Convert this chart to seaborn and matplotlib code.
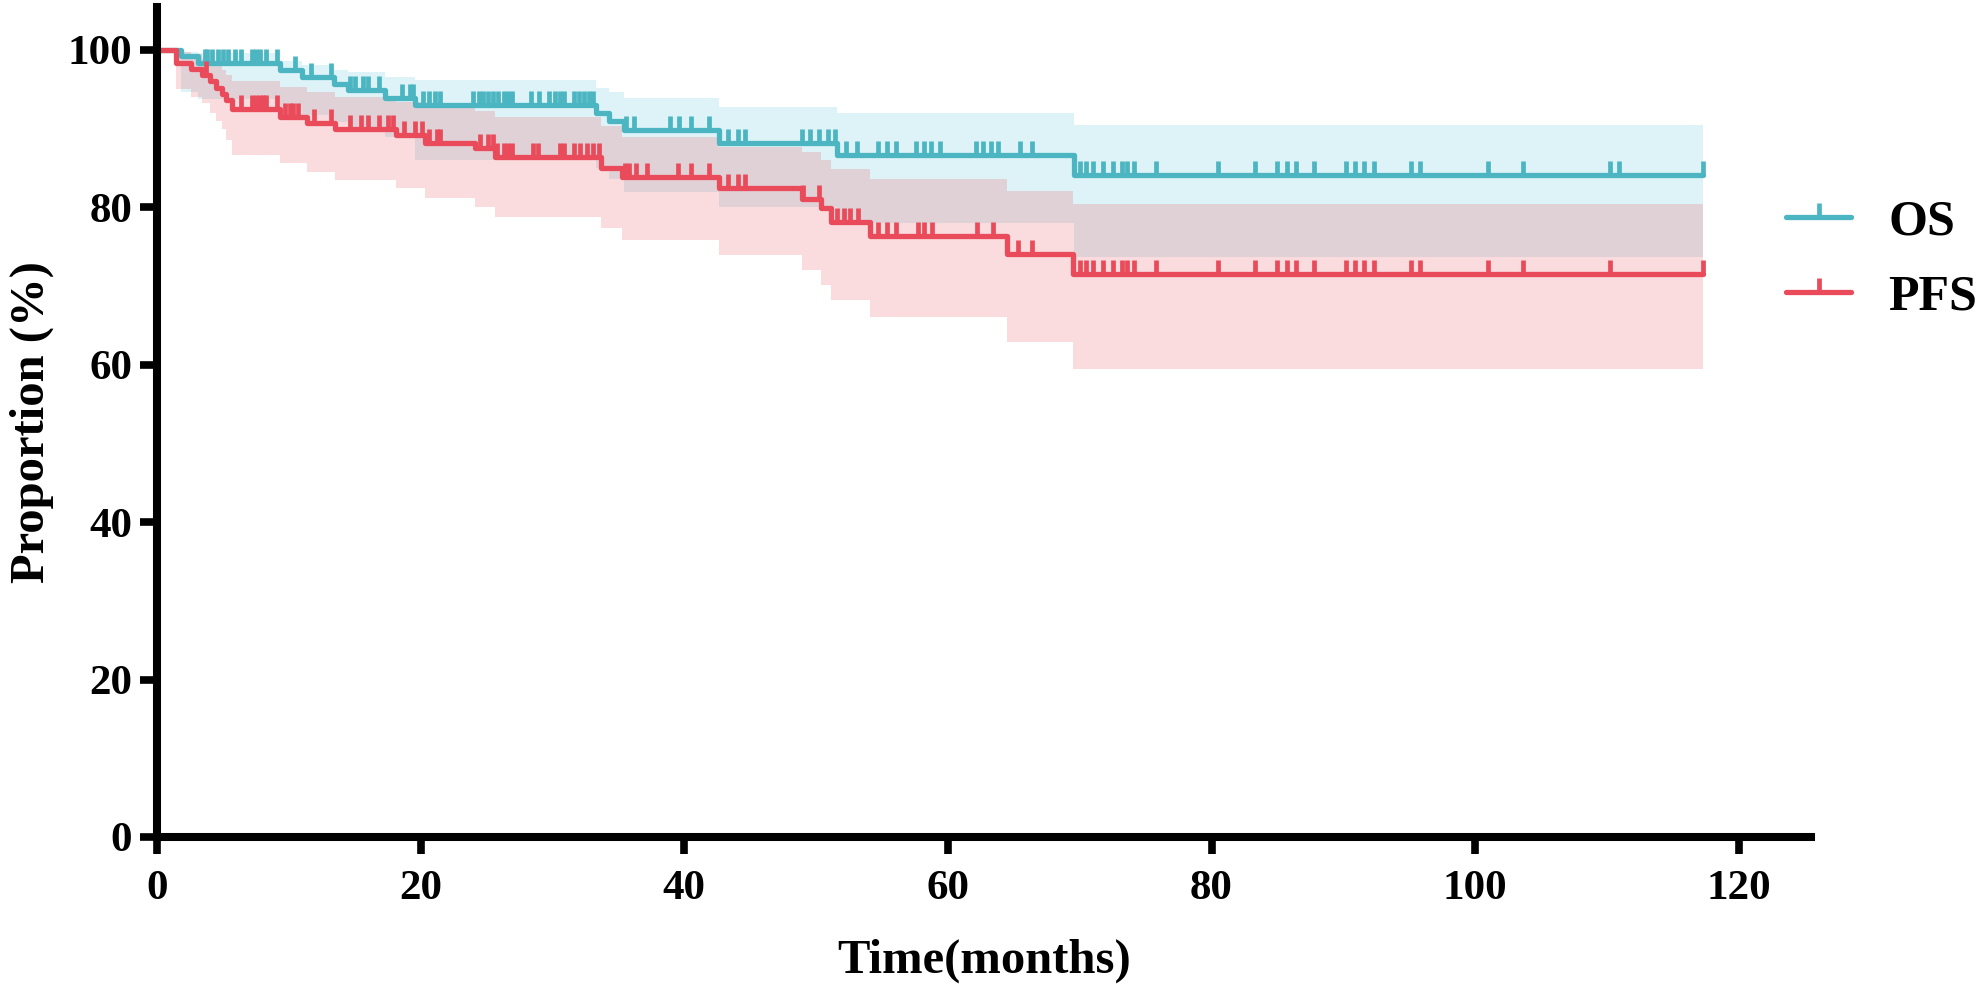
import numpy as np
import matplotlib
matplotlib.use("Agg")
import matplotlib.pyplot as plt
from matplotlib.path import Path
from matplotlib.lines import Line2D
import seaborn as sns

# %% Data (months, %)
t_end = 117.3

os_time = [0, 1.8, 3.1, 9.3, 11.0, 13.4, 14.5, 17.3, 19.6, 33.3, 34.3, 35.4, 42.6, 51.6, 69.6]
os_surv = [100, 99.2, 98.4, 97.5, 96.6, 95.7, 94.9, 93.9, 93.0, 92.0, 91.0, 89.8, 88.2, 86.6, 84.1]
os_low = [100, 94.6, 93.8, 92.7, 91.7, 90.8, 89.9, 88.9, 86.0, 85.0, 83.6, 82.0, 80.1, 78.0, 73.7]
os_high = [100, 99.8, 99.6, 98.6, 98.1, 97.5, 97.2, 96.6, 96.2, 95.2, 94.7, 93.9, 92.8, 92.0, 90.5]
os_censor = [3.6, 3.8, 4.2, 4.6, 5.0, 5.4, 5.9, 6.4, 7.2, 7.5, 7.8, 8.3, 9.1, 10.5, 11.7,
             13.2, 14.6, 15.0, 15.6, 16.0, 16.8, 18.6, 19.2, 19.4, 20.2, 20.6, 21.1, 21.5,
             24.0, 24.4, 24.7, 25.1, 25.5, 25.9, 26.3, 26.6, 26.9, 28.4, 29.0, 29.7, 30.2,
             30.6, 30.9, 31.6, 32.0, 32.4, 32.8, 33.1, 35.6, 36.2, 38.9, 39.6, 40.5, 41.9,
             43.3, 44.1, 44.6, 48.9, 49.5, 50.2, 50.9, 51.4, 52.3, 53.1, 54.7, 55.4, 56.1,
             57.6, 58.2, 58.7, 59.4, 62.1, 62.7, 63.3, 63.8, 65.5, 66.4, 70.0, 70.5, 71.0,
             71.8, 72.5, 73.2, 73.6, 74.1, 75.8, 80.5, 83.3, 85.0, 85.7, 86.4, 87.8, 90.2,
             90.9, 91.6, 92.3, 95.1, 95.8, 101.0, 103.6, 110.2, 110.9, 117.3]

pfs_time = [0, 1.4, 2.6, 3.4, 4.0, 4.5, 4.9, 5.2, 5.7, 9.3, 11.4, 13.5, 18.1, 20.3, 24.1,
            25.6, 33.7, 35.3, 42.6, 48.9, 50.4, 51.1, 54.1, 64.5, 69.5]
pfs_surv = [100, 98.4, 97.6, 96.8, 96.0, 95.2, 94.4, 93.6, 92.5, 91.5, 90.7, 90.0, 89.2, 88.2,
            87.5, 86.4, 85.0, 83.8, 82.4, 81.1, 79.9, 78.1, 76.3, 74.1, 71.5]
pfs_low = [100, 95.0, 94.0, 93.2, 92.0, 91.0, 90.0, 88.5, 86.7, 85.6, 84.5, 83.5, 82.4, 81.2,
           80.1, 78.8, 77.4, 75.8, 74.0, 72.1, 70.1, 68.2, 66.1, 62.9, 59.4]
pfs_high = [100, 99.8, 99.5, 99.0, 98.5, 98.0, 97.4, 96.8, 96.0, 95.3, 94.6, 94.0, 93.4, 92.8,
            92.2, 91.5, 90.3, 89.0, 87.7, 87.0, 86.0, 84.9, 83.6, 82.1, 80.4]
pfs_censor = [3.7, 6.4, 7.2, 7.5, 7.8, 8.0, 8.3, 9.1, 9.7, 10.1, 10.3, 10.7, 11.9, 13.2, 14.6,
              15.5, 16.0, 16.8, 17.5, 17.9, 18.7, 19.6, 20.1, 20.6, 21.2, 21.5, 24.5, 25.1,
              25.5, 25.8, 26.3, 26.6, 26.9, 28.5, 28.9, 30.6, 30.9, 31.6, 32.1, 32.6, 33.1,
              33.5, 35.5, 35.8, 36.3, 37.2, 39.5, 40.5, 41.9, 43.3, 44.1, 44.6, 49.0, 50.2,
              51.6, 52.1, 52.6, 53.2, 54.7, 55.4, 56.1, 57.7, 58.2, 58.8, 62.2, 63.4, 65.3,
              66.4, 70.0, 70.5, 71.0, 71.8, 72.5, 73.2, 73.6, 74.1, 75.8, 80.5, 83.3, 85.0,
              85.7, 86.4, 87.8, 90.2, 90.9, 91.6, 92.3, 95.1, 95.8, 101.0, 103.6, 110.2, 117.3]

os_color = "#4BB5C1"
pfs_color = "#E94B5B"
os_fill = "#35B5D2"

# %% Style
sns.set_style("ticks")
plt.rcParams['font.family'] = ['Liberation Serif', 'DejaVu Serif']
plt.rcParams['font.weight'] = 'bold'
plt.rcParams['axes.labelweight'] = 'bold'
for key in ['axes.edgecolor', 'xtick.color', 'ytick.color', 'text.color', 'axes.labelcolor']:
    plt.rcParams[key] = 'black'

fig = plt.figure(figsize=(19.76, 9.92), dpi=100)
ax = fig.add_axes([0.0795, 0.1563, 0.8371, 0.837])

# censor mark: short vertical stroke going up from the curve
tick_mark = Path([(0, 0), (0, 1)], [Path.MOVETO, Path.LINETO])


def extend(t, v):
    return np.append(t, t_end), np.append(v, v[-1])


def draw_band(t, lo, hi, color, alpha):
    tt, ll = extend(t, lo)
    _, hh = extend(t, hi)
    ax.fill_between(tt, ll, hh, step='post', color=color, alpha=alpha, lw=0)


def draw_curve(t, s, cens, color):
    tt, ss = extend(t, s)
    sns.lineplot(x=tt, y=ss, drawstyle='steps-post', color=color, lw=3.8,
                 ax=ax, legend=False, errorbar=None)
    idx = np.searchsorted(tt, cens, side='right') - 1
    ax.plot(cens, ss[idx], ls='none', marker=tick_mark, ms=20, mew=3.4,
            color=color, clip_on=False)


draw_band(os_time, os_low, os_high, os_fill, 0.16)
draw_band(pfs_time, pfs_low, pfs_high, pfs_color, 0.2)
draw_curve(os_time, os_surv, os_censor, os_color)
draw_curve(pfs_time, pfs_surv, pfs_censor, pfs_color)

# %% Axes
ax.set_xlim(0, 125.5)
ax.set_ylim(0, 105.5)
ax.set_xticks(range(0, 121, 20))
ax.set_yticks(range(0, 101, 20))
sns.despine(ax=ax)
for side in ['left', 'bottom']:
    ax.spines[side].set_linewidth(5.8)
ax.tick_params(axis='both', length=12, width=5.5, labelsize=31)
ax.tick_params(axis='x', pad=12)
ax.tick_params(axis='y', pad=6)
ax.set_xlabel("Time(months)", fontsize=35, labelpad=22)
ax.set_ylabel("Proportion (%)", fontsize=35, labelpad=10)

handles = [Line2D([], [], color=c, lw=3.8, marker=tick_mark, ms=20, mew=3.4)
           for c in [os_color, pfs_color]]
fig.legend(handles, ["OS", "PFS"], loc='center left', bbox_to_anchor=(0.9039, 0.7384),
           frameon=False, fontsize=36, handlelength=1.3, handletextpad=0.75,
           labelspacing=0.58, borderpad=0, borderaxespad=0)

fig.savefig("out.png", dpi=100)
